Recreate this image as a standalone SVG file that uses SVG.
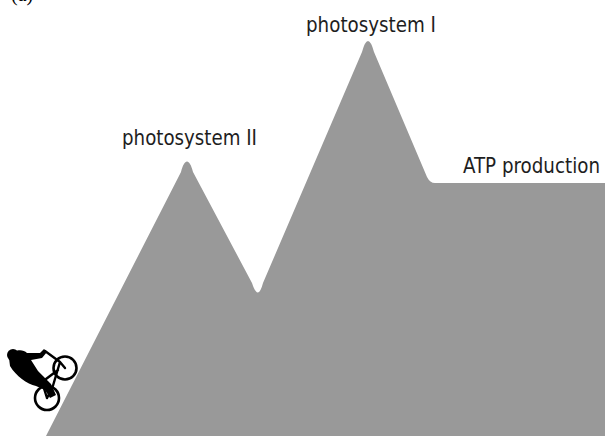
<svg xmlns="http://www.w3.org/2000/svg" width="605" height="436" viewBox="0 0 605 436">
  <style>
    .label { font-family: "Liberation Sans Narrow", "DejaVu Sans Condensed", "Liberation Sans", sans-serif; font-size: 22px; fill: #1e1e1e; }
    .tag { font-family: "Liberation Serif", serif; font-size: 20px; fill: #000; }
    .ink { fill: #000; }
    .wheel { fill: none; stroke: #000; stroke-width: 2.6; }
    .frame { fill: none; stroke: #000; stroke-width: 2.4; stroke-linecap: round; stroke-linejoin: round; }
  </style>
  <rect width="605" height="436" fill="#fff"/>

  <!-- panel tag, clipped at the top edge -->
  <text class="tag" x="11" y="1">(a)</text>

  <!-- energy landscape: two peaks and a plateau -->
  <g id="landscape">
    <path fill="#999999" d="M 46 436
      L 181 172
      C 184.5 158, 189.5 158, 193 172
      L 252 283
      Q 258 302 263 283
      L 362 52
      Q 368 30 374 52
      L 427 177
      Q 430 183 435 183
      L 605 183 L 605 436 Z"/>
  </g>

  <g id="labels">
    <text class="label" x="122" y="145" textLength="135" lengthAdjust="spacingAndGlyphs">photosystem II</text>
    <text class="label" x="306" y="32" textLength="130" lengthAdjust="spacingAndGlyphs">photosystem I</text>
    <text class="label" x="463" y="173" textLength="137" lengthAdjust="spacingAndGlyphs">ATP production</text>
  </g>

  <!-- cyclist climbing the slope -->
  <g id="cyclist">
    <circle class="wheel" cx="65" cy="368" r="11.5"/>
    <circle class="wheel" cx="47" cy="398" r="12"/>
    <path class="frame" d="M 47 398 L 52 389 L 60 362 L 65 368 M 52 389 L 42 382 L 47 398 M 42 382 L 58 370 M 60 362 L 45 351"/>
    <ellipse class="ink" cx="13" cy="355" rx="6" ry="6"/>
    <path class="ink" d="M 9 358 C 12 350, 22 348, 27 353 L 40 353 L 44 349 L 47 352 L 42 358 L 31 360 L 38 371 L 51 384 L 56 395 L 50 398 L 45 390 L 36 386 C 27 384, 16 376, 10 366 Z"/>
  </g>
</svg>
